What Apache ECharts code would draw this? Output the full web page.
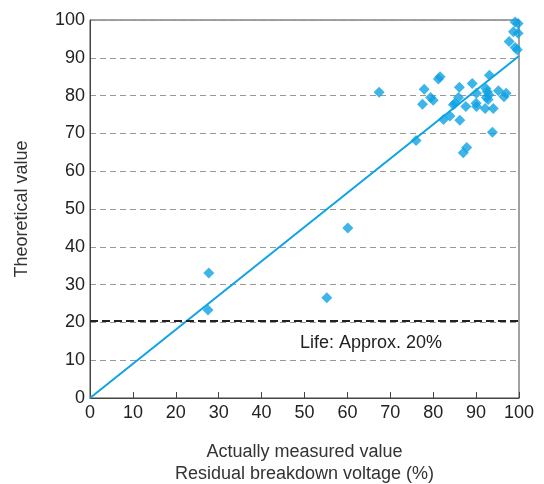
<!DOCTYPE html>
<html>
<head>
<meta charset="utf-8">
<script src="https://cdn.jsdelivr.net/npm/echarts@6/dist/echarts.min.js"></script>
<style>html,body{margin:0;padding:0;background:#fff}#c{width:544px;height:484px}</style>
</head>
<body>
<div id="c"></div>
<script>
// Actually measured value (x, %) and theoretical value (y, %)
var measured = [27.7, 27.5, 55.2, 60.1, 67.4,
  76.0, 77.5, 77.9, 79.4, 80.0, 81.2, 81.6, 82.4, 83.9, 84.7, 85.1, 85.9, 86.1, 86.2,
  87.0, 87.8, 87.6, 89.1, 90.1, 90.0, 90.1, 92.1, 92.3, 92.6, 92.4, 93.0, 92.8, 93.1,
  93.8, 94.0, 95.2, 96.5, 97.0, 97.7, 98.7, 99.1, 99.8, 99.8, 99.1, 99.6];
var theoretical = [33.1, 23.3, 26.5, 45.0, 80.9,
  68.1, 77.7, 81.7, 79.5, 78.8, 84.4, 85.0, 73.7, 74.6, 77.6, 78.0, 79.5, 82.2, 73.5,
  64.9, 66.3, 77.1, 83.2, 80.6, 78.0, 77.1, 76.6, 81.9, 81.0, 79.5, 80.2, 79.0, 85.4,
  70.3, 76.6, 81.3, 79.7, 80.6, 94.3, 96.9, 99.5, 99.1, 96.5, 92.7, 92.1];
var regressionX = [0, 100];
var regressionY = [0, 90.5];
var lifeLevel = 20.5;
var lifeLabel = 'Life: Approx. 20%';

var pts = measured.map(function (v, i) { return [v, theoretical[i]]; });
var reg = regressionX.map(function (v, i) { return [v, regressionY[i]]; });
var blue = '#0ea3e2';
var font = 'Liberation Sans, Arial, sans-serif';

var chart = echarts.init(document.getElementById('c'), null, {renderer: 'canvas'});
chart.setOption({
  animation: false,
  grid: {left: 90, right: 25, top: 20, bottom: 86, show: true, borderColor: '#444', borderWidth: 1,
         containLabel: false, outerBoundsMode: 'none'},
  xAxis: {
    type: 'value', min: 0, max: 100, interval: 10,
    name: 'Actually measured value\nResidual breakdown voltage (%)',
    nameLocation: 'middle', nameGap: 43,
    nameTextStyle: {fontFamily: font, fontSize: 18, color: '#333', lineHeight: 22},
    axisLine: {lineStyle: {color: '#444', width: 1}},
    axisTick: {show: true, inside: true, length: 6, lineStyle: {color: '#444'}},
    axisLabel: {fontFamily: font, fontSize: 18, color: '#222', margin: 6},
    splitLine: {show: false}
  },
  yAxis: {
    type: 'value', min: 0, max: 100, interval: 10,
    name: 'Theoretical value', nameLocation: 'middle', nameGap: 59,
    nameTextStyle: {fontFamily: font, fontSize: 18, color: '#333'},
    axisLine: {show: true, lineStyle: {color: '#444', width: 1}},
    axisTick: {show: false},
    axisLabel: {fontFamily: font, fontSize: 18, color: '#222', margin: 5},
    splitLine: {show: true, lineStyle: {color: '#999', type: [6, 4], width: 1}}
  },
  series: [
    {
      type: 'line', data: reg, showSymbol: false, symbol: 'none',
      lineStyle: {color: blue, width: 2}, z: 3,
      markLine: {
        silent: true, symbol: 'none', label: {show: false},
        lineStyle: {color: '#222', type: [8, 4], width: 2},
        data: [{yAxis: lifeLevel}]
      }
    },
    {
      type: 'scatter', data: pts, symbol: 'diamond', symbolSize: 11,
      itemStyle: {color: blue}, z: 4
    }
  ],
  graphic: [{
    type: 'text', left: 300, top: 334,
    style: {text: lifeLabel, font: '18px ' + font, fill: '#222'}
  }]
});
</script>
</body>
</html>
